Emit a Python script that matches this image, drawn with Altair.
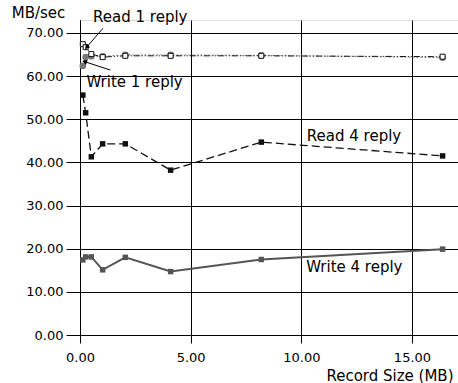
import altair as alt
import pandas as pd
import math

# ---- data ----
record_size = [0.128, 0.256, 0.512, 1.024, 2.048, 4.096, 8.192, 16.384]
read1 = [67.4, 66.7, 65.1, 64.4, 64.7, 64.7, 64.7, 64.5]
write1 = [62.4, 64.4, 64.6, 64.6, 64.9, 64.9, 64.8, 64.3]
read4 = [55.6, 51.5, 41.3, 44.3, 44.3, 38.2, 44.7, 41.5]
write4 = [17.4, 18.1, 18.1, 15.1, 18.0, 14.7, 17.5, 19.9]

label_text = ["Read 1 reply", "Write 1 reply", "Read 4 reply", "Write 4 reply"]
label_x = [0.59, 0.29, 10.25, 10.22]
label_y = [73.6, 58.7, 46.1, 15.8]

arrow_x1 = [1.04, 1.37]
arrow_y1 = [71.1, 61.4]
arrow_x2 = [0.32, 0.24]
arrow_y2 = [66.8, 63.3]

x_ticks = [0, 5, 10, 15]
y_ticks = [0, 10, 20, 30, 40, 50, 60, 70]

FONT = "DejaVu Sans"
W, H = 378, 315
XDOM = [0, 17.08]
YDOM = [0, 73]

xs = alt.Scale(domain=XDOM, nice=False, zero=False)
ys = alt.Scale(domain=YDOM, nice=False, zero=False)

x_axis = alt.Axis(values=x_ticks, format=".2f", grid=True,
                  gridColor="#000", gridOpacity=1, gridWidth=1,
                  domainColor="#000", tickColor="#000", tickSize=8,
                  labelFont=FONT, labelFontSize=13, labelColor="#000",
                  labelPadding=8, labelFlush=False,
                  titleFont=FONT, titleFontSize=15, titleFontWeight="normal",
                  titleColor="#000", titleAlign="right", titleX=373,
                  titleY=40, titleBaseline="middle")
y_axis = alt.Axis(values=y_ticks, format=".2f",
                  grid=True, gridColor="#000", gridOpacity=1, gridWidth=1,
                  domainColor="#000", tickColor="#000", tickSize=14,
                  labelFont=FONT, labelFontSize=13, labelColor="#000",
                  labelPadding=3,
                  titleFont=FONT, titleFontSize=15, titleFontWeight="normal",
                  titleColor="#000", titleAngle=0, titleAlign="center",
                  titleX=-42, titleY=-8, titleBaseline="middle")


def X(field):
    return alt.X(field, scale=xs, axis=x_axis, title="Record Size (MB)")


def Y(field):
    return alt.Y(field, scale=ys, axis=y_axis, title="MB/sec")


def series(vals, color, dash, width, shape, filled, fill, size):
    df = pd.DataFrame({"x": record_size, "y": vals})
    base = alt.Chart(df).encode(x=X("x:Q"), y=Y("y:Q"))
    line_kw = dict(color=color, strokeWidth=width)
    if dash:
        line_kw["strokeDash"] = dash
    line = base.mark_line(**line_kw)
    pts = base.mark_point(shape=shape, filled=True, fill=fill, stroke=color,
                          strokeWidth=1 if not filled else 0, size=size, opacity=1)
    return line + pts


l_write4 = series(write4, "#555555", None, 2, "square", True, "#555555", 30)
l_read4 = series(read4, "#111111", [8, 4], 1.3, "square", True, "#111111", 30)
l_write1 = series(write1, "#777777", [2, 2], 1, "circle", True, "#777777", 45)
l_read1 = series(read1, "#111111", [6, 2, 1, 2, 1, 2], 1, "square", False, "white", 25)

labels = alt.Chart(pd.DataFrame({"t": label_text, "x": label_x, "y": label_y})).mark_text(
    align="left", baseline="middle", font=FONT, fontSize=15, color="#000"
).encode(x=X("x:Q"), y=Y("y:Q"), text="t:N")

# arrow head angles from the pixel direction of each arrow
px = W / (XDOM[1] - XDOM[0])
py = H / (YDOM[1] - YDOM[0])
angles = []
for a, b, c, d in zip(arrow_x1, arrow_y1, arrow_x2, arrow_y2):
    dx = (c - a) * px
    dy = -(d - b) * py
    angles.append(math.degrees(math.atan2(dx, -dy)) % 360)

arr_df = pd.DataFrame({"x1": arrow_x1, "y1": arrow_y1, "x2": arrow_x2,
                       "y2": arrow_y2, "ang": angles})
arrow_lines = alt.Chart(arr_df).mark_rule(color="#000", strokeWidth=1).encode(
    x=X("x1:Q"), y=Y("y1:Q"), x2="x2:Q", y2="y2:Q")
arrow_heads = alt.Chart(arr_df).mark_point(shape="triangle", filled=True, color="#000",
                                           size=30, opacity=1).encode(
    x=X("x2:Q"), y=Y("y2:Q"), angle=alt.Angle("ang:Q", scale=None))

chart = alt.layer(
    l_write4, l_read4, l_write1, l_read1, labels, arrow_lines, arrow_heads
).properties(
    width=W, height=H,
    autosize=alt.AutoSizeParams(type="none"),
    padding={"left": 80, "top": 20, "right": 0, "bottom": 48},
).configure_view(strokeWidth=0).configure(background="white")

chart.save("out.html", embed_options={"renderer": "svg", "actions": False})
